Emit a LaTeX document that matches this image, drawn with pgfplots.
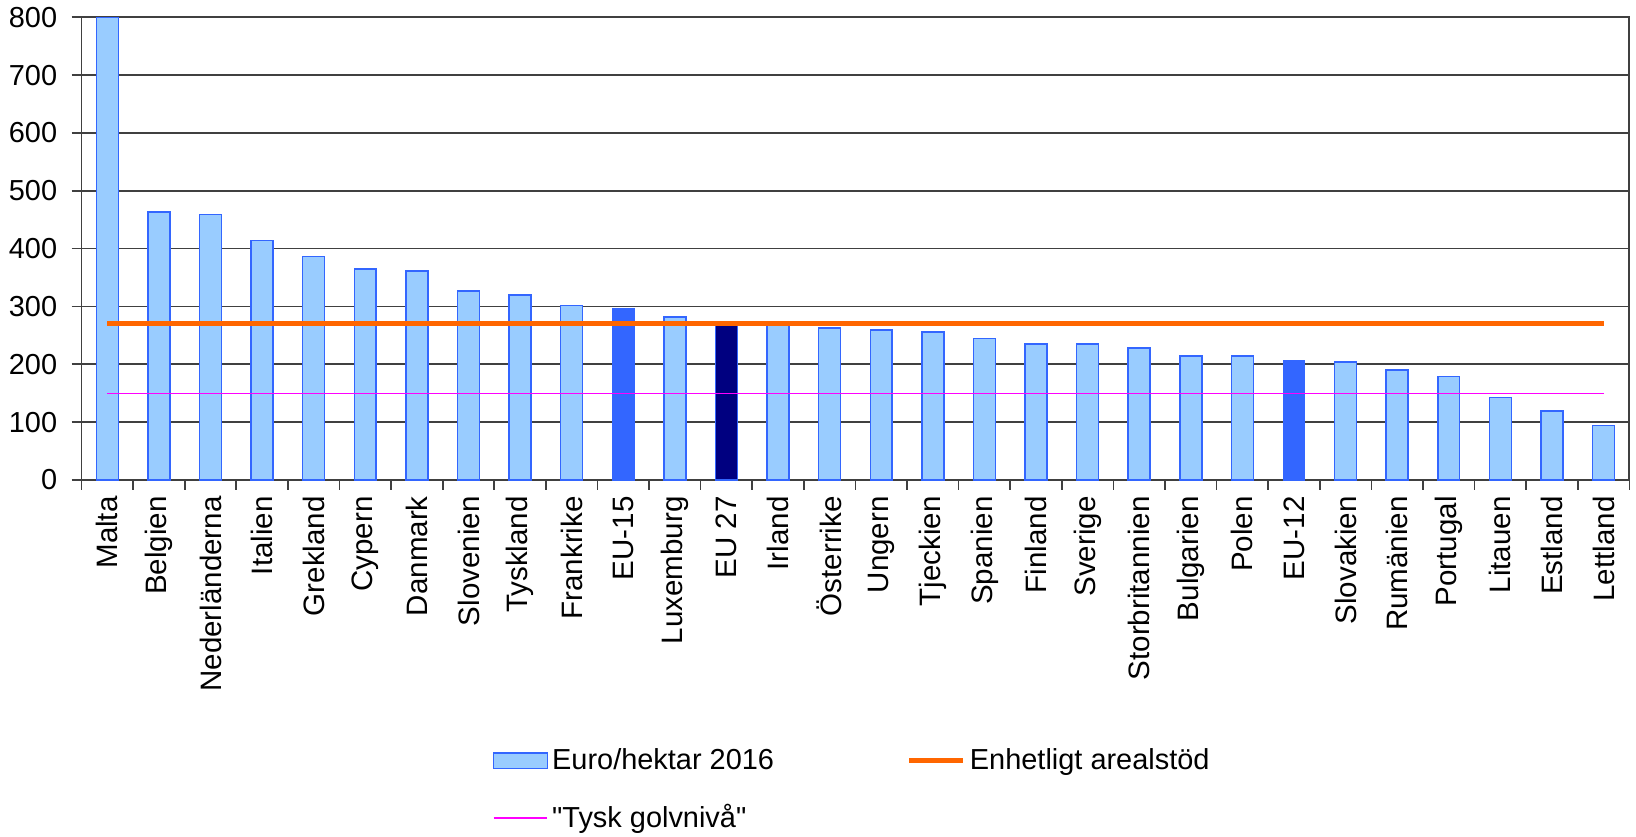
\documentclass[border=0pt]{standalone}
\usepackage{fontspec}
\setmainfont{Liberation Sans}[Ligatures=TeXOff]
\usepackage{pgfplots}
\pgfplotsset{compat=1.18}
\usepackage{pgfplotstable}
\definecolor{barfill}{HTML}{99CCFF}
\definecolor{barline}{HTML}{3366FF}
\definecolor{eudark}{HTML}{000080}
\definecolor{orangeline}{HTML}{FF6600}
\definecolor{magline}{HTML}{FF00FF}
\definecolor{gridcol}{HTML}{404040}
\pgfplotsset{
  lineleg/.style={legend image code/.code={\draw[##1] (0pt,0pt) -- (27pt,0pt);}},
  barleg/.style={legend image code/.code={\draw[fill=barfill,draw=barline,line width=0.75pt] (0pt,-4pt) rectangle (27pt,4pt);}},
}

\pgfplotstableread{
x y
0 800
1 463
2 459
3 414
4 386
5 365
6 361
7 327
8 320
9 302
11 282
13 268
14 263
15 259
16 256
17 245
18 235
19 235
20 228
21 214
22 214
24 204
25 190
26 179
27 143
28 119
29 94
}\countries
\pgfplotstableread{
x y
10 296
23 207
}\eublue
\pgfplotstableread{
x y
12 271
}\eudarktab

\begin{document}
\begin{tikzpicture}
\begin{axis}[
  at={(0,0)}, anchor=south west,
  scale only axis,
  width=776pt, height=232pt,
  xmin=-0.5, xmax=29.5, ymin=0, ymax=800,
  ybar, bar width=11pt, bar shift=0pt,
  ytick={0,100,...,800},
  ymajorgrids, major grid style={gridcol, line width=0.85pt},
  axis line style={gridcol, line width=0.9pt},
  tick style={gridcol, line width=0.85pt},
  tick align=outside, major tick length=5pt,
  xtick pos=bottom, ytick pos=left,
  xtick={-0.5,0.5,...,29.5}, xticklabels={},
  extra x ticks={0,1,...,29},
  extra x tick labels={Malta,Belgien,Nederländerna,Italien,Grekland,Cypern,Danmark,Slovenien,Tyskland,Frankrike,EU-15,Luxemburg,EU 27,Irland,Österrike,Ungern,Tjeckien,Spanien,Finland,Sverige,Storbritannien,Bulgarien,Polen,EU-12,Slovakien,Rumänien,Portugal,Litauen,Estland,Lettland},
  extra x tick style={major tick length=0pt, xticklabel style={yshift=-8pt, rotate=90, anchor=east, inner sep=0pt, font=\fontsize{14.8}{17}\selectfont}},
  /pgf/number format/assume math mode=true,
  tick label style={font=\fontsize{14.5}{17}\selectfont},
  yticklabel style={inner sep=0pt, xshift=-7pt},
  legend style={draw=none, fill=none, inner sep=0pt, at={(0.2655,-0.6696)}, anchor=west,
    font=\fontsize{14.5}{17}\selectfont, row sep=12pt},
  legend columns=2, legend cell align=left,
  /tikz/every even column/.append style={column sep=64.5pt},
]
\addplot[fill=barfill, draw=barline, line width=0.75pt, bar shift=0pt, barleg]
  table[x=x,y=y]{\countries};
\addlegendentry{Euro/hektar 2016}
\addplot[fill=barline, draw=barline, line width=0.5pt, bar shift=0pt, forget plot]
  table[x=x,y=y]{\eublue};
\addplot[fill=eudark, draw=barline, line width=0.75pt, bar shift=0pt, forget plot]
  table[x=x,y=y]{\eudarktab};
\addplot[sharp plot, no marks, draw=orangeline, line width=2.7pt, lineleg]
  coordinates {(0,271) (29,271)};
\addlegendentry{Enhetligt arealstöd}
\addplot[sharp plot, no marks, draw=magline, line width=0.75pt, lineleg]
  coordinates {(0,150) (29,150)};
\addlegendentry{"Tysk golvnivå"}
\end{axis}
\path (-40.85pt,-178.85pt) rectangle (777.15pt,240.65pt);
\end{tikzpicture}
\end{document}
